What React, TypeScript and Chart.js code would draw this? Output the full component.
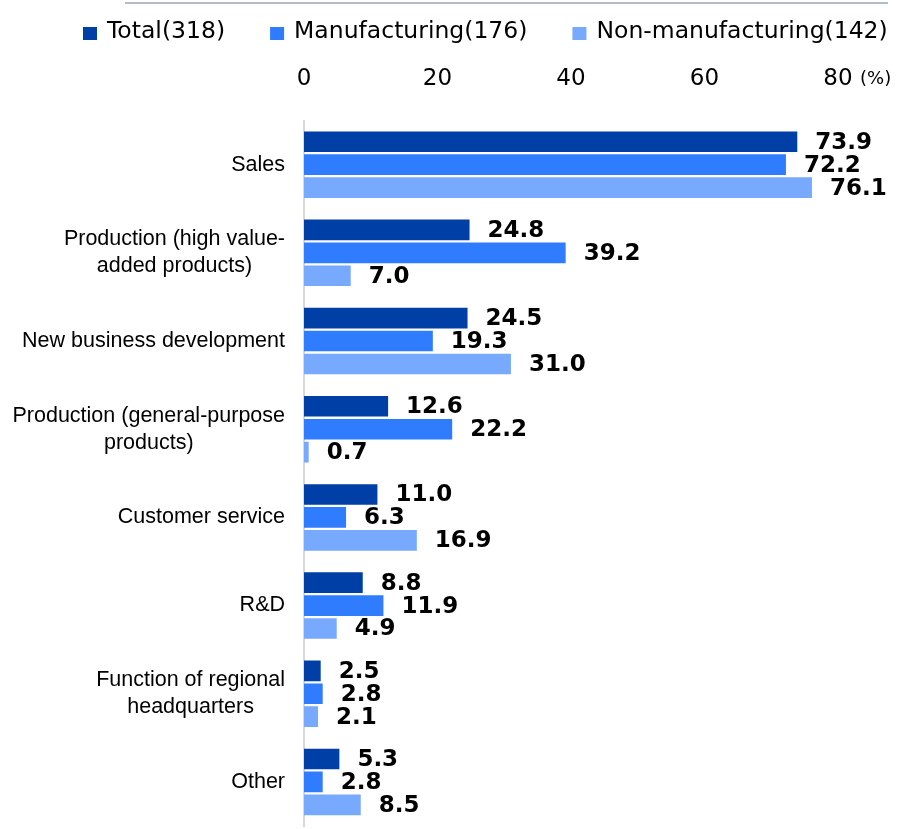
import React, { useEffect, useRef } from "react";
import { Chart, registerables } from "chart.js";

Chart.register(...registerables);

const categories: string[][] = [
  ["Sales"],
  ["Production (high value-", "added products)"],
  ["New business development"],
  ["Production (general-purpose", "products)"],
  ["Customer service"],
  ["R&D"],
  ["Function of regional", "headquarters"],
  ["Other"],
];
const seriesNames = ["Total(318)", "Manufacturing(176)", "Non-manufacturing(142)"];
const totalValues = [73.9, 24.8, 24.5, 12.6, 11.0, 8.8, 2.5, 5.3];
const manufacturingValues = [72.2, 39.2, 19.3, 22.2, 6.3, 11.9, 2.8, 2.8];
const nonManufacturingValues = [76.1, 7.0, 31.0, 0.7, 16.9, 4.9, 2.1, 8.5];
const xTickValues = [0, 20, 40, 60, 80];
const unitLabel = "(%)";
const seriesColors = ["#003fa5", "#2f7cff", "#77a9ff"];

const decorPlugin = {
  id: "decor",
  afterDraw(chart: any) {
    const ctx = chart.ctx as CanvasRenderingContext2D;
    const xs = chart.scales.x;
    const ys = chart.scales.y;
    ctx.save();
    // top rule
    ctx.fillStyle = "#b3bccb";
    ctx.fillRect(125, 2, 763, 2);

    // legend
    ctx.font = "23.5px 'DejaVu Sans'";
    ctx.textAlign = "left";
    ctx.textBaseline = "alphabetic";
    let lx = 83;
    chart.data.datasets.forEach((ds: any) => {
      ctx.fillStyle = ds.backgroundColor;
      ctx.fillRect(lx, 27, 14, 13);
      ctx.fillStyle = "#000";
      ctx.fillText(ds.label, lx + 24, 38);
      lx += 24 + ctx.measureText(ds.label).width + 45;
    });

    // category labels
    ctx.font = "21.5px 'Liberation Sans'";
    ctx.textAlign = "center";
    ctx.textBaseline = "middle";
    ctx.fillStyle = "#000";
    chart.data.labels.forEach((lab: any, i: number) => {
      const lines: string[] = Array.isArray(lab) ? lab : [lab];
      const w = Math.max(...lines.map((l) => ctx.measureText(l).width));
      const cx = ys.right - 19 - w / 2;
      const cy = ys.getPixelForValue(i);
      lines.forEach((l, j) => {
        ctx.fillText(l, cx, cy + (j - (lines.length - 1) / 2) * 27);
      });
    });

    // value labels
    ctx.font = "bold 23px 'DejaVu Sans'";
    ctx.textAlign = "left";
    ctx.textBaseline = "middle";
    chart.data.datasets.forEach((ds: any, di: number) => {
      const meta = chart.getDatasetMeta(di);
      meta.data.forEach((bar: any, i: number) => {
        ctx.fillText(Number(ds.data[i]).toFixed(1), bar.x + 18, bar.y + 1);
      });
    });

    // unit label
    ctx.font = "18px 'DejaVu Sans'";
    ctx.textBaseline = "middle";
    ctx.fillText(unitLabel, xs.right + 22, xs.bottom - 41);
    ctx.restore();
  },
};

export default function App() {
  const ref = useRef<HTMLCanvasElement | null>(null);
  useEffect(() => {
    if (!ref.current) return;
    const chart = new Chart(ref.current, {
      type: "bar",
      data: {
        labels: categories as any,
        datasets: [
          { label: seriesNames[0], data: totalValues, backgroundColor: seriesColors[0] },
          { label: seriesNames[1], data: manufacturingValues, backgroundColor: seriesColors[1] },
          { label: seriesNames[2], data: nonManufacturingValues, backgroundColor: seriesColors[2] },
        ],
      },
      options: {
        indexAxis: "y",
        animation: false,
        responsive: true,
        maintainAspectRatio: false,
        datasets: { bar: { categoryPercentage: 0.78, barPercentage: 0.9 } },
        layout: { padding: { top: 37, right: 67, bottom: 3, left: 0 } },
        plugins: { legend: { display: false }, tooltip: { enabled: false } },
        scales: {
          x: {
            position: "top",
            min: 0,
            max: 80,
            afterBuildTicks: (scale: any) => {
              scale.ticks = xTickValues.map((v) => ({ value: v }));
            },
            grid: { display: false, drawTicks: false },
            border: { display: false },
            ticks: {
              padding: 28,
              color: "#000",
              font: { family: "'DejaVu Sans'", size: 23 },
            },
          },
          y: {
            grid: { display: false, drawTicks: false },
            border: { display: true, color: "#d9d9d9", width: 2 },
            ticks: { display: false },
            afterFit: (scale: any) => {
              scale.width = 304;
            },
          },
        },
      },
      plugins: [decorPlugin],
    });
    return () => chart.destroy();
  }, []);
  return (
    <div style={{ position: "absolute", left: 0, top: 0, width: 905, height: 829 }}>
      <canvas ref={ref} />
    </div>
  );
}
